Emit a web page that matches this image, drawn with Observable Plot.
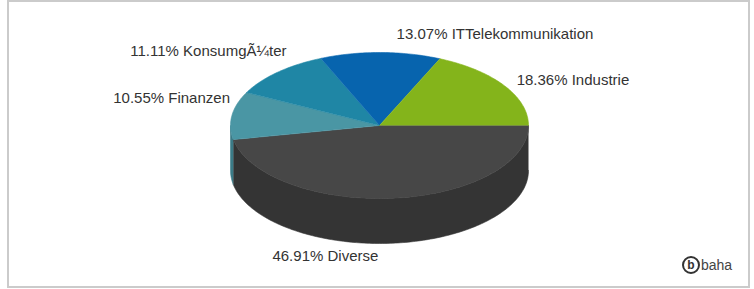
<!DOCTYPE html>
<html>
<head>
<meta charset="utf-8">
<script src="https://cdn.jsdelivr.net/npm/d3@7"></script>
<script src="https://cdn.jsdelivr.net/npm/@observablehq/plot@0.6"></script>
<style>
  html, body { margin: 0; padding: 0; background: #fff; }
  #wrap { position: relative; width: 754px; height: 289px; font-family: "Liberation Sans", Arial, sans-serif; }
  #frame { position: absolute; left: 7px; top: 0; width: 743px; height: 288px; box-sizing: border-box; border: 2px solid #cbcbcb; }
  #chart { position: absolute; left: 0; top: 0; }
  #logo { position: absolute; left: 682px; top: 256px; display: flex; align-items: center; color: #333; }
  #logo .b { width: 14px; height: 14px; border: 2px solid #333; border-radius: 50%; display: flex; align-items: center; justify-content: center; font-weight: bold; font-size: 12px; line-height: 12px; box-sizing: content-box; }
  #logo .t { font-size: 14px; margin-left: 1px; color: #444; }
</style>
</head>
<body>
<div id="wrap">
  <div id="frame"></div>
  <div id="chart"></div>
  <div id="logo"><span class="b">b</span><span class="t">baha</span></div>
</div>
<script>
// ---- data ----
const categories = ["Diverse", "Finanzen", "Konsumg\u00C3\u00BCter", "ITTelekommunikation", "Industrie"];
const shares = [46.91, 10.55, 11.11, 13.07, 18.36];

// ---- palette ----
const topColors  = ["#474747", "#4a96a4", "#1f86a5", "#0764ae", "#84b41b"];
const sideColors = ["#343434", "#3a7a86", "#186b84", "#05508b", "#6a9016"];

// ---- geometry (3D pie projection) ----
const W = 754, H = 289;
const cx = 379, cy = 125, rx = 149, ry = 73, depth = 45;
const total = d3.sum(shares);
let acc = 0;
const slices = categories.map((c, i) => {
  const a0 = acc / total * 2 * Math.PI;
  acc += shares[i];
  const a1 = acc / total * 2 * Math.PI;
  return {c, i, a0, a1, mid: (a0 + a1) / 2};
});
const ex = a => cx + rx * Math.cos(a);
const ey = a => cy + ry * Math.sin(a);
function arcAngles(a0, a1) {
  const n = Math.max(2, Math.ceil((a1 - a0) / (Math.PI / 180)));
  return d3.range(n + 1).map(k => a0 + (a1 - a0) * k / n);
}
const topPts = [], sidePts = [];
for (const s of slices) {
  topPts.push({key: s.c, x: cx, y: cy, color: topColors[s.i]});
  for (const a of arcAngles(s.a0, s.a1)) topPts.push({key: s.c, x: ex(a), y: ey(a), color: topColors[s.i]});
  const s0 = Math.max(s.a0, 0), s1 = Math.min(s.a1, Math.PI);
  if (s1 > s0) {
    const arc = arcAngles(s0, s1);
    for (const a of arc) sidePts.push({key: s.c, x: ex(a), y: ey(a), color: sideColors[s.i]});
    for (const a of arc.slice().reverse()) sidePts.push({key: s.c, x: ex(a), y: ey(a) + depth, color: sideColors[s.i]});
  }
}

// ---- labels ----
const tilt = 6 * Math.PI / 180;
const labels = slices.map(s => {
  const e = s.mid + tilt;
  const front = Math.sin(e) > 0.5;
  return {
    text: `${shares[s.i].toFixed(2)}% ${s.c}`,
    x: cx + (rx + 5) * Math.cos(e),
    y: cy - 7 + (ry + 12) * Math.sin(e) + (front ? depth + 8 : 0),
    right: Math.cos(e) > 0
  };
});

const chart = Plot.plot({
  width: W, height: H,
  margin: 0,
  x: {domain: [0, W], range: [0, W], axis: null},
  y: {domain: [0, H], range: [0, H], axis: null},
  color: {type: "identity"},
  style: {background: "transparent", fontFamily: "Liberation Sans, Arial, sans-serif"},
  marks: [
    Plot.line(sidePts, {x: "x", y: "y", z: "key", fill: "color", stroke: "color", strokeWidth: 0.6}),
    Plot.line(topPts, {x: "x", y: "y", z: "key", fill: "color", stroke: "color", strokeWidth: 0.6}),
    Plot.text(labels.filter(d => d.right), {x: "x", y: "y", text: "text", textAnchor: "start", fontSize: 15, fill: "#333"}),
    Plot.text(labels.filter(d => !d.right), {x: "x", y: "y", text: "text", textAnchor: "end", fontSize: 15, fill: "#333"})
  ]
});
document.getElementById("chart").appendChild(chart);
</script>
</body>
</html>
